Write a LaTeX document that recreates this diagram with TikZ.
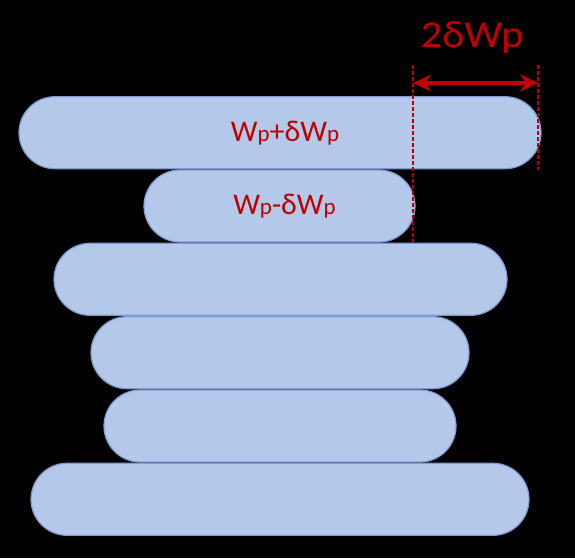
\documentclass[tikz,border=0pt]{standalone}
\usepackage{fontspec}
\setmainfont{Carlito}
\usetikzlibrary{shapes.misc,arrows.meta}

\definecolor{barfill}{HTML}{B4C8EA}
\definecolor{barline}{HTML}{7F9BD1}
\definecolor{darkred}{HTML}{C00000}

% W with a small p, same baseline
\newcommand{\smallp}{{\fontsize{23}{23}\selectfont p}}

\begin{document}
\begin{tikzpicture}[
    x=1pt, y=-1pt,
    bar/.style={rounded rectangle,draw=barline,fill=barfill,line width=1.2pt,
        minimum height=72pt,inner sep=0pt,text=darkred,font=\fontsize{30}{36}\selectfont},
    guide/.style={darkred,line width=1.5pt,dash pattern=on 4pt off 2pt},
    >={Stealth[length=18pt,width=17pt]}
]

\fill[black] (0,0) rectangle (575,558);

\node[bar,minimum width=522pt] (b1) at (280,132.7) {\hspace{10pt}W\smallp+δW\smallp};
\node[bar,minimum width=271pt] (b2) at (279.5,206) {\hspace{10pt}W\smallp-δW\smallp};
\node[bar,minimum width=453pt] (b3) at (280.5,279.3) {};
\node[bar,minimum width=378pt] (b4) at (280,352.7) {};
\node[bar,minimum width=352pt] (b5) at (280,426) {};
\node[bar,minimum width=498pt] (b6) at (280,499.3) {};

\coordinate (lt) at (413,65);
\coordinate (lb) at (413,242);
\coordinate (rt) at (538,65);
\coordinate (rb) at (538,170);
\coordinate (la) at (413,83);
\coordinate (ra) at (538,83);

\draw[guide] (lt) -- (lb);
\draw[guide] (rt) -- (rb);
\draw[<->,darkred,line width=4pt] (la) -- (ra);

\node[text=darkred,font=\fontsize{38}{44}\selectfont,xscale=1.12] (gap) at (472,38) {2δWp};

\end{tikzpicture}
\end{document}
